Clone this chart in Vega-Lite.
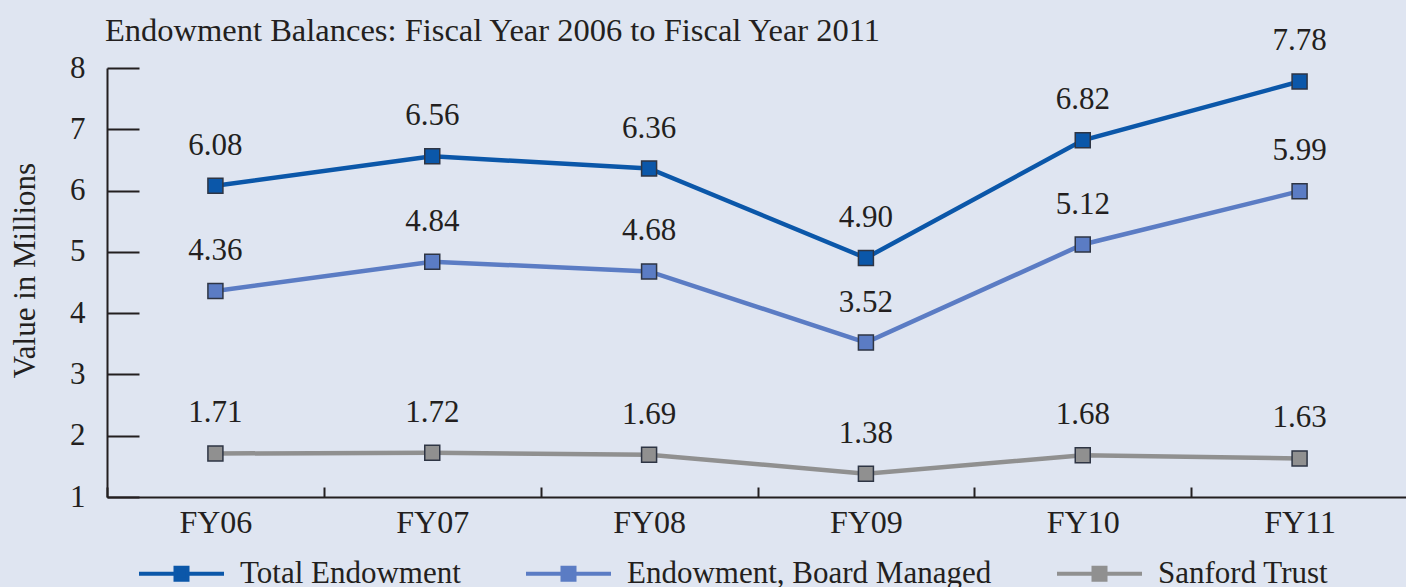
{
  "$schema": "https://vega.github.io/schema/vega-lite/v6.json",
  "width": 1301,
  "height": 429,
  "autosize": {"type": "none"},
  "padding": {"left": 107, "top": 68, "right": 0, "bottom": 90},
  "background": "#dfe5f1",
  "config": {"view": {"stroke": null}, "font": "Liberation Serif"},
  "title": {
    "text": "Endowment Balances: Fiscal Year 2006 to Fiscal Year 2011",
    "anchor": "start",
    "frame": "group",
    "offset": 22,
    "dy": 44,
    "dx": -2,
    "fontSize": 32.5,
    "fontWeight": "normal",
    "color": "#231f20",
    "font": "Liberation Serif"
  },
  "data": {
    "values": [
      {"year": "FY06", "series": "Total Endowment", "value": 6.08},
      {"year": "FY07", "series": "Total Endowment", "value": 6.56},
      {"year": "FY08", "series": "Total Endowment", "value": 6.36},
      {"year": "FY09", "series": "Total Endowment", "value": 4.90},
      {"year": "FY10", "series": "Total Endowment", "value": 6.82},
      {"year": "FY11", "series": "Total Endowment", "value": 7.78},
      {"year": "FY06", "series": "Endowment, Board Managed", "value": 4.36},
      {"year": "FY07", "series": "Endowment, Board Managed", "value": 4.84},
      {"year": "FY08", "series": "Endowment, Board Managed", "value": 4.68},
      {"year": "FY09", "series": "Endowment, Board Managed", "value": 3.52},
      {"year": "FY10", "series": "Endowment, Board Managed", "value": 5.12},
      {"year": "FY11", "series": "Endowment, Board Managed", "value": 5.99},
      {"year": "FY06", "series": "Sanford Trust", "value": 1.71},
      {"year": "FY07", "series": "Sanford Trust", "value": 1.72},
      {"year": "FY08", "series": "Sanford Trust", "value": 1.69},
      {"year": "FY09", "series": "Sanford Trust", "value": 1.38},
      {"year": "FY10", "series": "Sanford Trust", "value": 1.68},
      {"year": "FY11", "series": "Sanford Trust", "value": 1.63}
    ]
  },
  "encoding": {
    "x": {
      "field": "year",
      "type": "ordinal",
      "sort": null,
      "scale": {"paddingInner": 0, "paddingOuter": 0},
      "axis": {
        "title": null,
        "labelAngle": 0,
        "tickBand": "extent",
        "tickSize": -10,
        "tickWidth": 2,
        "tickColor": "#231f20",
        "domainColor": "#231f20",
        "domainWidth": 2,
        "labelFontSize": 32,
        "labelColor": "#231f20",
        "labelPadding": 20,
        "grid": false
      }
    },
    "y": {
      "field": "value",
      "type": "quantitative",
      "scale": {"domain": [1, 8], "nice": false, "zero": false},
      "axis": {
        "title": "Value in Millions",
        "titleFontSize": 31,
        "titleFontWeight": "normal",
        "titleColor": "#231f20",
        "titlePadding": 28,
        "titleY": 202,
        "values": [1, 2, 3, 4, 5, 6, 7, 8],
        "tickSize": -32,
        "tickWidth": 2,
        "tickColor": "#231f20",
        "domainColor": "#231f20",
        "domainWidth": 2,
        "labelFontSize": 31,
        "labelColor": "#231f20",
        "labelPadding": 54,
        "grid": false
      }
    },
    "color": {
      "field": "series",
      "type": "nominal",
      "scale": {
        "domain": ["Total Endowment", "Endowment, Board Managed", "Sanford Trust"],
        "range": ["#0b57a9", "#5b7cc4", "#909090"]
      },
      "legend": {
        "title": null,
        "orient": "none",
        "legendX": 59,
        "legendY": 490,
        "direction": "horizontal",
        "columnPadding": 57,
        "labelFontSize": 31,
        "labelColor": "#231f20",
        "labelLimit": 600,
        "labelOffset": 43,
        "symbolType": "M-4.25,0H-0.6M0.6,0H4.25M-0.6,-0.6H0.6V0.6H-0.6Z",
        "symbolSize": 400,
        "symbolStrokeWidth": 4,
        "symbolOpacity": 1,
        "encode": {
          "symbols": {
            "update": {
              "fill": {"scale": "color", "field": "value"},
              "stroke": {"scale": "color", "field": "value"},
              "strokeWidth": {"value": 4}
            }
          }
        }
      }
    }
  },
  "layer": [
    {"mark": {"type": "line", "strokeWidth": 4.5}},
    {
      "mark": {
        "type": "point",
        "shape": "square",
        "filled": true,
        "size": 225,
        "stroke": "#2e3544",
        "strokeWidth": 1.5,
        "opacity": 1
      }
    },
    {
      "mark": {"type": "text", "dy": -40, "fontSize": 31, "baseline": "middle"},
      "encoding": {
        "text": {"field": "value", "type": "quantitative", "format": ".2f"},
        "color": {"value": "#231f20"}
      }
    }
  ]
}
